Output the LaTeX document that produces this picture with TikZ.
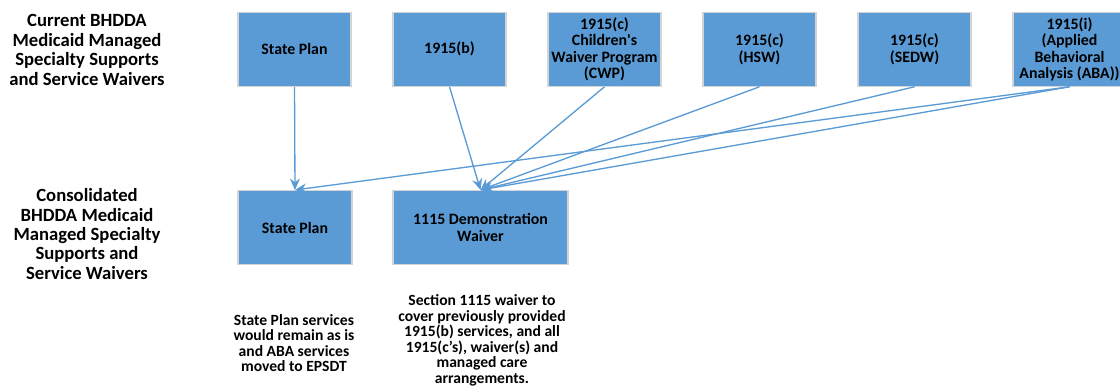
\documentclass[tikz,border=0pt]{standalone}
\usepackage{fontspec}
\setmainfont{Carlito}
\setsansfont{Carlito}
\usetikzlibrary{arrows.meta}

\definecolor{planblue}{HTML}{5B9BD5}
\definecolor{planedge}{HTML}{D4D4D4}

\begin{document}
\begin{tikzpicture}[x=0.75pt, y=-0.75pt, font=\sffamily\bfseries,
    plan/.style={fill=planblue, draw=planedge, line width=0.8pt, align=center, inner sep=1pt,
        minimum height=55.5pt, font=\sffamily\bfseries\fontsize{11.9}{12.2}\selectfont},
    topplan/.style={plan, minimum width=84.75pt},
    feed/.style={draw=planblue, line width=1pt, -{Stealth[length=8.5pt, width=7.5pt]}},
    side/.style={align=center, font=\sffamily\bfseries\fontsize{14}{14.6}\selectfont},
    note/.style={align=center, font=\sffamily\bfseries\fontsize{11.7}{11.6}\selectfont}]

    % Page frame
    \useasboundingbox (0,0) rectangle (1120,388);
    \clip (0,0) rectangle (1120,388);

    % Row titles
    \node[side] (nowtitle) at (87,50) {Current BHDDA\\Medicaid Managed\\Specialty Supports\\and Service Waivers};
    \node[side] (newtitle) at (87,234) {Consolidated\\BHDDA Medicaid\\Managed Specialty\\Supports and\\Service Waivers};

    % Current programs
    \node[topplan] (stateplan) at (294.5,49.25) {State Plan};
    \node[topplan] (bwaiver) at (449.5,49.25) {1915(b)};
    \node[topplan] (cwp) at (604.5,49.25) {1915(c)\\Children\textquotesingle s\\Waiver Program\\(CWP)};
    \node[topplan] (hsw) at (759.5,49.25) {1915(c)\\(HSW)};
    \node[topplan] (sedw) at (914.5,49.25) {1915(c)\\(SEDW)};
    \node[topplan] (aba) at (1069.5,49.25) {1915(i)\\(Applied\\Behavioral\\Analysis (ABA))};

    % Consolidated programs
    \node[plan, minimum width=85.5pt] (newplan) at (295,227.5) {State Plan};
    \node[plan, minimum width=131.25pt] (demo) at (480.5,227.5) {1115 Demonstration\\Waiver};

    % Notes under the new programs
    \node[note] (plannote) at (294,343) {State Plan services\\would remain as is\\and ABA services\\moved to EPSDT};
    \node[note] (demonote) at (482,340.5) {Section 1115 waiver to\\cover previously provided\\1915(b) services, and all\\1915(c’s), waiver(s) and\\managed care\\arrangements.};

    % Where each program goes
    \draw[feed] (stateplan.south) -- (newplan.north);
    \draw[feed] (aba.south) -- (newplan.north);
    \foreach \src in {bwaiver, cwp, hsw, sedw, aba} {
        \draw[feed] (\src.south) -- (demo.north);
    }

\end{tikzpicture}
\end{document}
